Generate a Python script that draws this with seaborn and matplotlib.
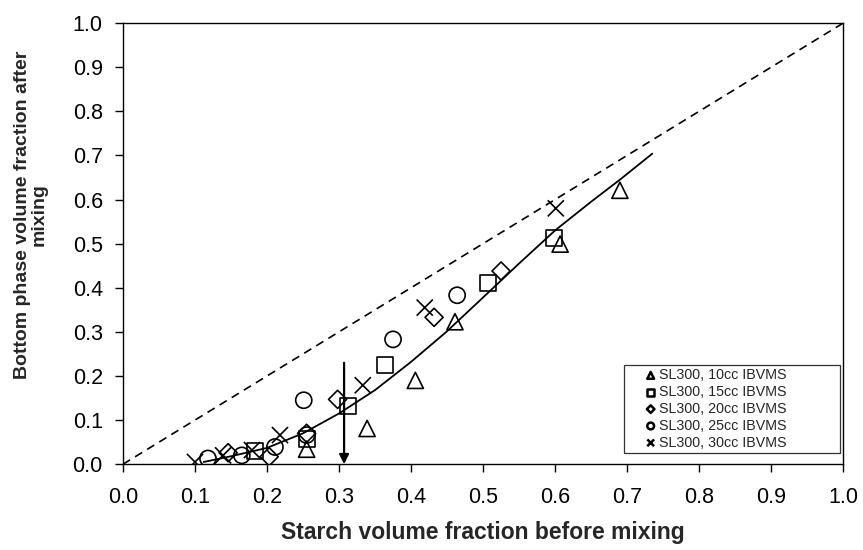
import matplotlib
matplotlib.use("Agg")
import matplotlib.pyplot as plt
import seaborn as sns
import pandas as pd

sns.set_style("ticks")
plt.rcParams['font.family'] = ['Liberation Sans', 'DejaVu Sans']

# ---- data ----
labels = ["SL300, 10cc IBVMS", "SL300, 15cc IBVMS", "SL300, 20cc IBVMS",
          "SL300, 25cc IBVMS", "SL300, 30cc IBVMS"]
markers = ["^", "s", "D", "o", "x"]

x10 = [0.255, 0.339, 0.406, 0.461, 0.607, 0.690]
y10 = [0.034, 0.081, 0.190, 0.323, 0.499, 0.621]

x15 = [0.183, 0.255, 0.313, 0.364, 0.507, 0.598]
y15 = [0.030, 0.058, 0.132, 0.224, 0.411, 0.512]

x20 = [0.146, 0.203, 0.255, 0.298, 0.432, 0.525]
y20 = [0.026, 0.017, 0.070, 0.147, 0.333, 0.438]

x25 = [0.118, 0.165, 0.211, 0.251, 0.255, 0.375, 0.464]
y25 = [0.013, 0.020, 0.039, 0.145, 0.066, 0.283, 0.383]

x30 = [0.100, 0.139, 0.179, 0.218, 0.333, 0.419, 0.601]
y30 = [0.005, 0.020, 0.032, 0.066, 0.179, 0.355, 0.580]

fit_x = [0.112, 0.15, 0.20, 0.25, 0.30, 0.35, 0.40, 0.449, 0.50, 0.55, 0.60, 0.65, 0.69, 0.735]
fit_y = [0.005, 0.018, 0.037, 0.070, 0.115, 0.168, 0.232, 0.300, 0.378, 0.455, 0.530, 0.595, 0.645, 0.704]

diag_x = [0.0, 1.0]
diag_y = [0.0, 1.0]

arrow_x = 0.307
arrow_y_top = 0.23
arrow_y_bot = 0.0

ticks = [0.0, 0.1, 0.2, 0.3, 0.4, 0.5, 0.6, 0.7, 0.8, 0.9, 1.0]
tick_labels = ["0.0", "0.1", "0.2", "0.3", "0.4", "0.5", "0.6", "0.7", "0.8", "0.9", "1.0"]

series = [(x10, y10), (x15, y15), (x20, y20), (x25, y25), (x30, y30)]

# ---- figure ----
fig = plt.figure(figsize=(8.63, 5.5), dpi=100)
ax = fig.add_axes([0.1425, 0.156, 0.8345, 0.802])

sns.lineplot(x=diag_x, y=diag_y, ax=ax, color="black", linewidth=1.2,
             linestyle=(0, (5, 3.5)), sort=False)
sns.lineplot(x=fit_x, y=fit_y, ax=ax, color="black", linewidth=1.3, sort=False)

handles = []
for (xs, ys), m, lab in zip(series, markers, labels):
    df = pd.DataFrame({"x": xs, "y": ys})
    before = len(ax.collections)
    sns.scatterplot(data=df, x="x", y="y", ax=ax, marker=m,
                    s=135 if m != "D" else 85,
                    color="black", linewidth=1.2, legend=False, zorder=3)
    coll = ax.collections[before]
    coll.set_facecolor("none")
    coll.set_edgecolor("black")
    handles.append(coll)

ax.annotate("", xy=(arrow_x, arrow_y_bot), xytext=(arrow_x, arrow_y_top),
            arrowprops=dict(arrowstyle="-|>", color="black", lw=1.6,
                            mutation_scale=14, shrinkA=0, shrinkB=0))

ax.set_xlim(0, 1)
ax.set_ylim(0, 1)
ax.set_xticks(ticks)
ax.set_xticklabels(tick_labels)
ax.set_yticks(ticks)
ax.set_yticklabels(tick_labels)
ax.tick_params(axis="both", direction="out", length=5.5, width=1, labelsize=15.5,
               colors="black")
ax.tick_params(axis="x", pad=11)
ax.tick_params(axis="y", pad=9)
for sp in ax.spines.values():
    sp.set_visible(True)
    sp.set_color("black")
    sp.set_linewidth(1.0)

ax.set_xlabel("Starch volume fraction before mixing", fontsize=16.5,
              fontweight="bold")
ax.xaxis.set_label_coords(0.5, -0.128)
ax.set_ylabel("Bottom phase volume fraction after\nmixing", fontsize=14,
              fontweight="bold", linespacing=1.0)
ax.yaxis.set_label_coords(-0.104, 0.566)

leg = ax.legend(handles, labels, loc="lower left",
                bbox_to_anchor=(0.696, 0.025, 0.299, 0.215), mode="expand",
                borderaxespad=0, fontsize=10.3, markerscale=0.42, frameon=True,
                fancybox=False, handlelength=3.2, handletextpad=-1.0,
                borderpad=0.25, labelspacing=0.2)
leg.get_frame().set_edgecolor("black")
leg.get_frame().set_linewidth(0.9)
for h in leg.legend_handles:
    h.set_linewidth(1.8)

fig.savefig("out.png", dpi=100)
